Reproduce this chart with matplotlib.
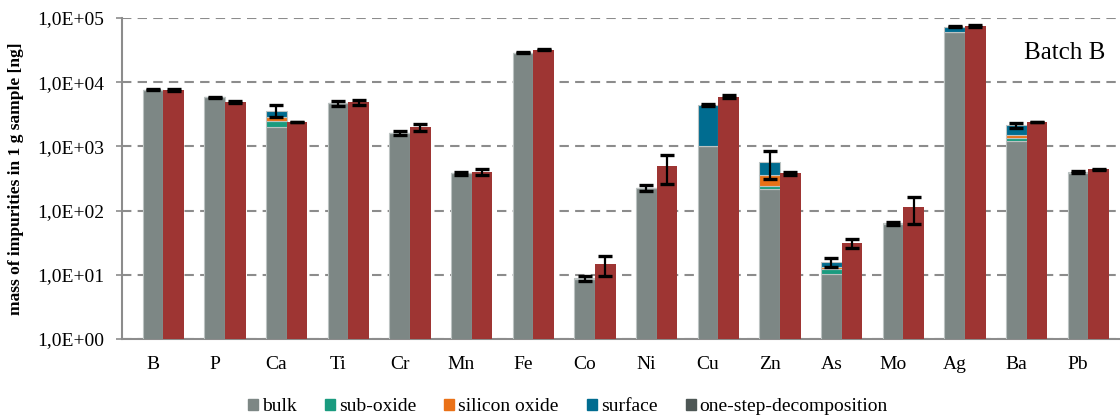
import numpy as np
import matplotlib
matplotlib.use('Agg')
import matplotlib.pyplot as plt
from matplotlib.patches import Patch
from matplotlib.ticker import FuncFormatter, LogLocator, NullLocator

plt.rcParams['font.family'] = ['Liberation Serif', 'DejaVu Serif']

elements = ['B', 'P', 'Ca', 'Ti', 'Cr', 'Mn', 'Fe', 'Co', 'Ni', 'Cu', 'Zn', 'As', 'Mo', 'Ag', 'Ba', 'Pb']

# stacked contributions [ng]
bulk          = [7500, 5800, 2000, 4700, 1620, 380, 29000, 8.6, 222, 1015, 215, 10.3, 62, 59800, 1230, 392]
sub_oxide     = [20, 10, 490, 0, 0, 2, 0, 0.1, 3, 0, 29, 1.9, 0.5, 0, 106, 0]
silicon_oxide = [60, 10, 350, 0, 0, 2, 0, 0.1, 3, 0, 115, 0.9, 0.5, 0, 184, 0]
surface       = [0, 0, 760, 0, 0, 0, 0, 0, 0, 3400, 219, 2.7, 0, 13500, 610, 8]
stack_err     = [150, 120, 750, 400, 90, 20, 700, 0.7, 25, 150, 270, 2.5, 4, 1500, 225, 10]

one_step     = [7500, 4900, 2400, 4900, 2000, 400, 32300, 14.7, 495, 5940, 385, 31, 112, 75000, 2400, 440]
one_step_err = [200, 150, 40, 420, 270, 45, 900, 5, 235, 300, 20, 4.5, 50, 3000, 40, 12]

c_bulk = '#7d8785'
c_sub = '#1a9b7f'
c_si = '#ea7117'
c_surf = '#006c90'
c_one = '#4e5755'
c_red = '#9e3533'

x = np.arange(len(elements))
w = 0.335

fig = plt.figure(figsize=(11.2, 4.18), dpi=100)
ax = fig.add_axes([122 / 1120, 1 - 339 / 418, 998 / 1120, 321 / 418])
ax.set_yscale('log')

layers = [(bulk, c_bulk), (sub_oxide, c_sub), (silicon_oxide, c_si), (surface, c_surf)]
bottom = np.zeros(len(elements))
for vals, col in layers:
    vals = np.array(vals, dtype=float)
    ax.bar(x, vals, w, bottom=bottom, color=col, edgecolor='#bcc3c2', linewidth=0.8, zorder=3)
    bottom = bottom + vals

ax.errorbar(x, bottom, yerr=stack_err, fmt='none', ecolor='black',
            elinewidth=1.6, capsize=4.8, capthick=2.4, zorder=5)

ax.bar(x + w, one_step, w, color=c_red, linewidth=0, zorder=3)
ax.errorbar(x + w, one_step, yerr=one_step_err, fmt='none', ecolor='black',
            elinewidth=1.6, capsize=4.8, capthick=2.4, zorder=5)

ax.set_ylim(1, 1e5)
ax.set_xlim(-0.5, 15.5 + 11 / 61.7)
ax.yaxis.set_major_locator(LogLocator(base=10, numticks=10))
ax.yaxis.set_minor_locator(NullLocator())
ax.yaxis.set_major_formatter(FuncFormatter(lambda v, _: '1,0E+%02d' % round(np.log10(v))))
ax.set_xticks(x)
ax.set_xticklabels(elements)

ax.grid(axis='y', color='#8c8c8c', linestyle=(0, (4.5, 3)), linewidth=1.5, zorder=0)
ax.set_axisbelow(True)

for s in ['top', 'right']:
    ax.spines[s].set_visible(False)
for s in ['left', 'bottom']:
    ax.spines[s].set_color('#8c8c8c')
    ax.spines[s].set_linewidth(1.5)

ax.tick_params(axis='y', direction='out', length=4, width=1.2, color='#8c8c8c', labelsize=14, pad=9)
ax.tick_params(axis='x', length=0, labelsize=14, pad=12)

ax.set_ylabel('mass of impurities in 1 g sample [ng]', fontsize=12.5, fontweight='bold', labelpad=9)
ax.text(0.985, 0.89, 'Batch B', transform=ax.transAxes, ha='right', va='center', fontsize=18)

handles = [Patch(color=c_bulk), Patch(color=c_sub), Patch(color=c_si), Patch(color=c_surf), Patch(color=c_one)]
labels = ['bulk', 'sub-oxide', 'silicon oxide', 'surface', 'one-step-decomposition']
leg = fig.legend(handles, labels, loc='lower center', bbox_to_anchor=(0.507, -0.035), ncol=5, frameon=False,
                 fontsize=14, handlelength=0.52, handleheight=0.52, handletextpad=0.2, columnspacing=1.45)
for t in leg.get_texts():
    t.set_fontfamily(['Liberation Serif'])

fig.savefig('out.png', dpi=100)
